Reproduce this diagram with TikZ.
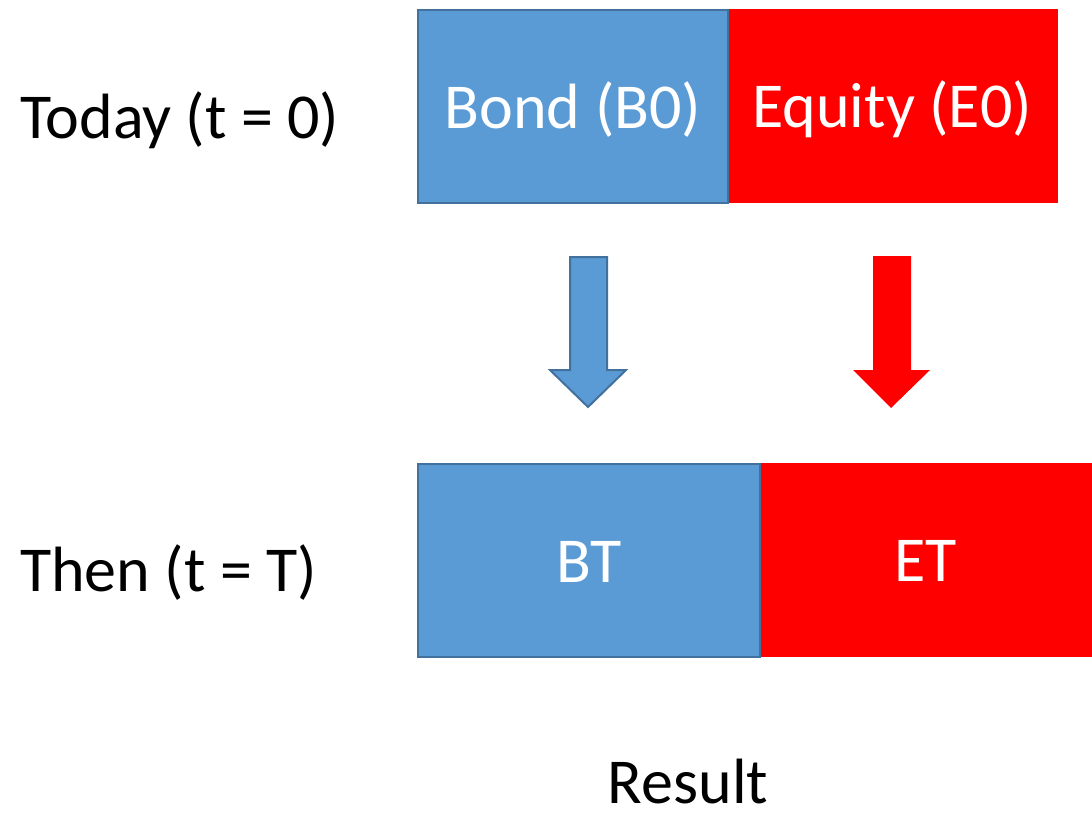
\documentclass[tikz,border=0pt]{standalone}
\usepackage{fontspec}
\setmainfont{Carlito}
\definecolor{bondblue}{HTML}{5B9BD5}
\definecolor{bondedge}{HTML}{41719C}
\definecolor{eqred}{HTML}{FF0000}
\tikzset{
  part/.style={rectangle,inner sep=0pt,anchor=north west,minimum height=193pt,
    text=white,text height=44pt,text depth=1pt,font=\fontsize{64}{76}\selectfont},
  bondbox/.style={part,fill=bondblue,draw=bondedge,line width=2pt},
  eqbox/.style={part,fill=eqred,draw=eqred,line width=.5pt},
  rowlbl/.style={anchor=base west,inner sep=0pt,font=\fontsize{64}{76}\selectfont}
}
\begin{document}
\begin{tikzpicture}[x=1pt,y=-1pt,line join=miter]
			\useasboundingbox (0,0) rectangle (1092,812);
			%========================
			% today
			\node[eqbox,minimum width=330pt] (e0) at (727,9) {Equity (E0)};
			\node[bondbox,minimum width=310pt] (b0) at (417,9) {Bond (B0)};
			\node[rowlbl] (today) at (20,138) {Today (t = 0)};
			%========================
			% arrows
			\filldraw[fill=bondblue,draw=bondedge,line width=2pt] (570,257) -- (607,257) -- (607,370) -- (626,370)
				-- (588,407) -- (550,370) -- (570,370) -- cycle;
			\fill[eqred] (873,256) -- (911,256) -- (911,370) -- (930,370)
				-- (891,408) -- (853,370) -- (873,370) -- cycle;
			%========================
			% then
			\node[eqbox,minimum width=333pt] (et) at (759,463) {ET};
			\node[bondbox,minimum width=342pt] (bt) at (417,463) {BT};
			\node[rowlbl] (then) at (20,591) {Then (t = T)};
			\node[anchor=base,inner sep=0pt,font=\fontsize{64}{76}\selectfont] (res) at (688,803) {Result};
			%========================
\end{tikzpicture}
\end{document}
